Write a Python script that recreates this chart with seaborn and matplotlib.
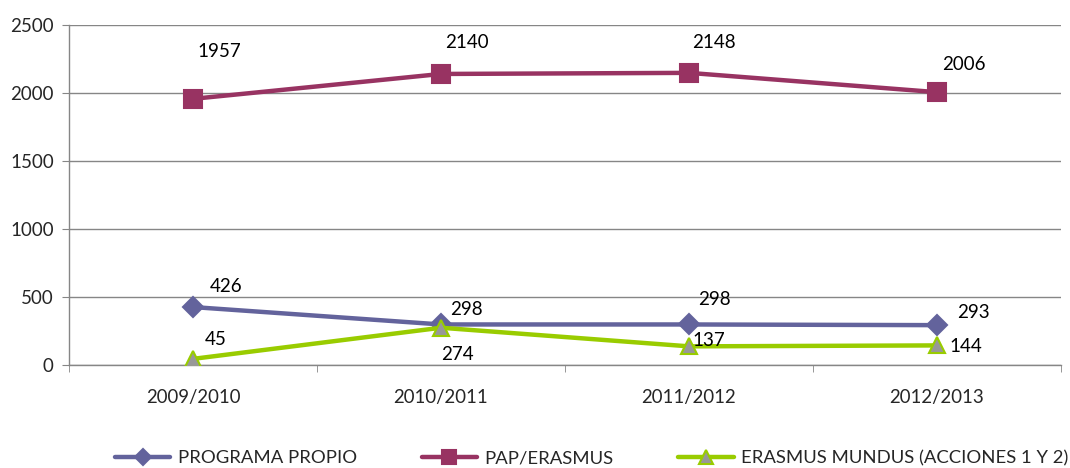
import numpy as np
import pandas as pd
import matplotlib
matplotlib.use('Agg')
import matplotlib.pyplot as plt
import seaborn as sns

plt.close('all')

# data
years = ['2009/2010', '2010/2011', '2011/2012', '2012/2013']
programa_propio = [426, 298, 298, 293]
pap_erasmus = [1957, 2140, 2148, 2006]
erasmus_mundus = [45, 274, 137, 144]
series_names = ['PROGRAMA PROPIO', 'PAP/ERASMUS', 'ERASMUS MUNDUS (ACCIONES 1 Y 2)']

# label offsets in points (dx, dy) per series / point
lbl_off = [
    [(24, 15), (18, 11), (18, 18), (26, 9)],
    [(19, 34), (19, 23), (18, 22), (19, 20)],
    [(16, 14), (12, -19), (14, 4), (21, -1)],
]

sns.set_style('white')
plt.rcParams['font.family'] = ['Lato', 'DejaVu Sans']

df = pd.DataFrame({
    'x': list(range(len(years))) * 3,
    'value': programa_propio + pap_erasmus + erasmus_mundus,
    'serie': sum([[n] * len(years) for n in series_names], []),
})

fig = plt.figure(figsize=(10.7, 4.68), dpi=100)
ax = fig.add_axes([0.0645, 0.2201, 0.9271, 0.7265])

colors = ['#63639C', '#983362', '#99CC00']
markers = ['D', 's', '^']
msizes = [10, 13, 12]
faces = ['#63639C', '#983362', '#989898']

for i, name in enumerate(series_names):
    sub = df[df['serie'] == name]
    sns.lineplot(x='x', y='value', data=sub, ax=ax, color=colors[i], lw=3.2,
                 marker=markers[i], markersize=msizes[i], markerfacecolor=faces[i],
                 markeredgecolor=colors[i], markeredgewidth=1.5, label=name,
                 zorder=3 if i != 1 else 4)
    for j, v in enumerate(sub['value']):
        ax.annotate(str(v), (j, v), xytext=lbl_off[i][j], textcoords='offset points',
                    ha='center', va='center', fontsize=13.5, color='black')

ax.set_xlim(-0.5, 3.5)
ax.set_ylim(0, 2500)
ax.set_yticks(np.arange(0, 2501, 500))
ax.set_xticks(range(len(years)))
ax.set_xticklabels(years)
ax.set_xticks([-0.5, 0.5, 1.5, 2.5, 3.5], minor=True)
ax.tick_params(axis='x', which='major', length=0, pad=17, labelsize=13.4)
ax.tick_params(axis='x', which='minor', length=5, color='#868686', direction='out', bottom=True)
ax.tick_params(axis='y', length=5, color='#868686', direction='out', left=True, labelsize=13.5, pad=6)
ax.yaxis.grid(True, color='#868686', lw=1)
ax.set_axisbelow(True)
ax.set_xlabel('')
ax.set_ylabel('')
for s in ['top', 'right']:
    ax.spines[s].set_visible(False)
for s in ['left', 'bottom']:
    ax.spines[s].set_color('#868686')
    ax.spines[s].set_linewidth(1)

handles, labels = ax.get_legend_handles_labels()
ax.get_legend().remove()
fig.legend(handles, labels, loc='center', bbox_to_anchor=(0.553, 0.021), ncol=3,
           frameon=False, fontsize=13.3, columnspacing=3.5, handlelength=3.0,
           handletextpad=0.4, markerscale=0.8, borderpad=0)

plt.savefig('out.png', dpi=100)
